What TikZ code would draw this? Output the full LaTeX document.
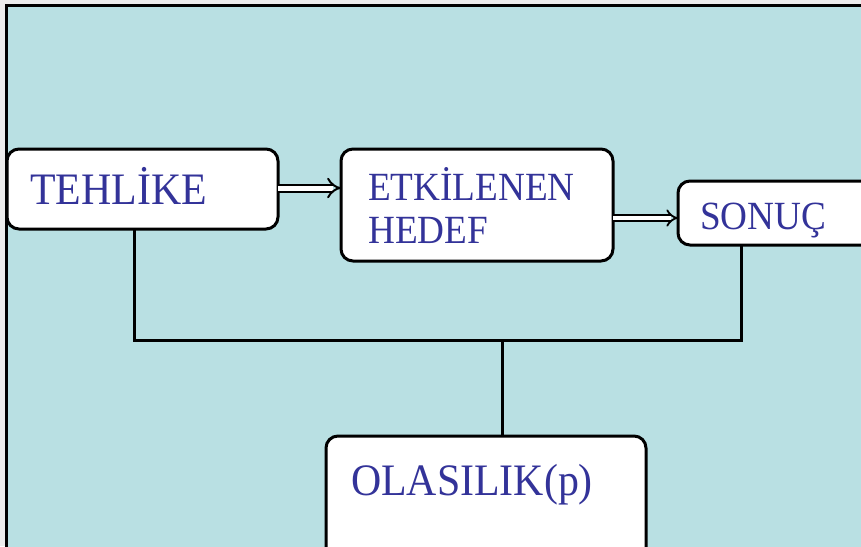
\documentclass[tikz,border=0pt]{standalone}
\usepackage{fontspec}
\setmainfont{Liberation Serif}[FakeStretch=0.93]
\usetikzlibrary{arrows.meta}
\definecolor{bgteal}{RGB}{185,224,227}
\definecolor{txtblue}{RGB}{51,51,153}
\definecolor{margin}{RGB}{236,236,236}
\tikzset{
  boxnode/.style={draw=black, fill=white, line width=3pt, rounded corners=12pt, inner sep=0pt, outer sep=0pt},
  bigtxt/.style={anchor=base west, inner sep=0pt, text=txtblue, font=\fontsize{45}{50}\selectfont},
  midtxt/.style={anchor=base west, inner sep=0pt, text=txtblue, font=\fontsize{40}{43}\selectfont},
  conn/.style={draw=black, line width=3pt},
  dblarrow/.style={double=white, draw=black, line width=2pt, double distance=5pt, -{Implies[scale=1.3]}}
}
\begin{document}
\begin{tikzpicture}[x=1pt,y=-1pt]
\useasboundingbox (0,0) rectangle (861,546);
\fill[margin] (0,0) rectangle (861,546);
\filldraw[fill=bgteal, draw=black, line width=3pt] (6,5) rectangle (880,570);
% boxes
\node[boxnode, minimum width=271pt, minimum height=80pt] (teh) at (142.5,189) {};
\node[boxnode, minimum width=272pt, minimum height=112pt] (etk) at (477,205) {};
\node[boxnode, minimum width=202pt, minimum height=64pt] (son) at (779,213) {};
\node[boxnode, minimum width=320pt, minimum height=134pt] (ola) at (486,503) {};
% texts
\node[bigtxt] (tehT) at (30,204) {TEHLİKE};
\node[midtxt] (etkT1) at (368,200) {ETKİLENEN};
\node[midtxt] (etkT2) at (368,243) {HEDEF};
\node[midtxt] (sonT) at (700,229) {SONUÇ};
\node[bigtxt] (olaT) at (351,495) {OLASILIK(p)};
% arrows
\draw[dblarrow] ([yshift=1pt]teh.east) -- ([yshift=1pt]teh.east -| etk.west);
\draw[dblarrow, double distance=4pt, line width=1.8pt] ([yshift=-13pt]etk.east) -- ([yshift=-13pt]etk.east -| son.west);
% connectors
\coordinate (j) at (502,340);
\draw[conn] ([xshift=-8.5pt]teh.south) |- (j) -| ([xshift=-38pt]son.south);
\draw[conn] (j) -- (j |- ola.north);
\end{tikzpicture}
\end{document}
